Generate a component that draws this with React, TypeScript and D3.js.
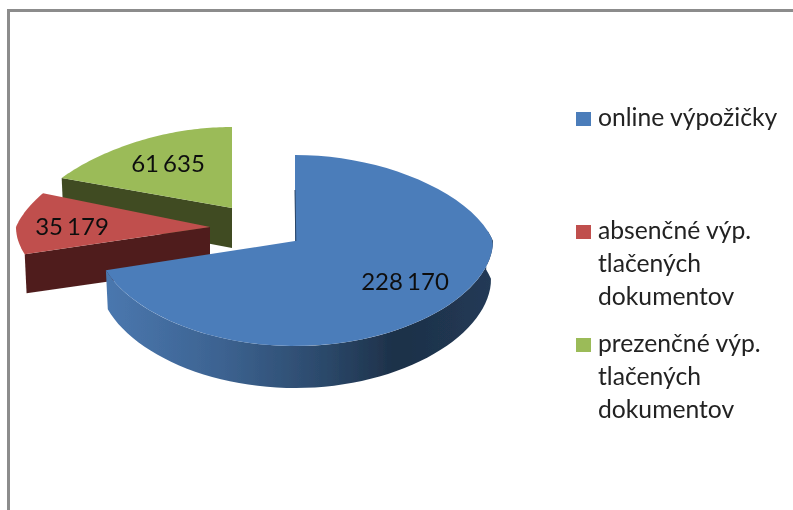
import React from "react";
import * as d3 from "d3";

const categories = ["online výpožičky", "absenčné výp. tlačených dokumentov", "prezenčné výp. tlačených dokumentov"];
const values = [228170, 35179, 61635];
const legendLines = [["online výpožičky"], ["absenčné výp.", "tlačených", "dokumentov"], ["prezenčné výp.", "tlačených", "dokumentov"]];

const topColors = ["#4c7dba", "#c0504d", "#9bbb59"];
const sideColors = ["url(#blueWall)", "#4f1f1d", "#404c24"];
const apexes: [number, number][] = [[295, 241], [210, 227], [232, 208]];
const radiusX = [198, 194, 198];
const radiusYBase = [95.5, 91.5, 81];
const radiusYSlope = [9.5, 0, 0];
const labelPos: [number, number][] = [[405, 290], [72, 235], [168, 172]];
const legendY = [126, 239, 352];
const legendBaselines = [[126], [239, 272, 305], [352, 385, 418]];

const arcs = d3.pie<number>().sort(null).startAngle(0).endAngle(2 * Math.PI)(values);
const fmt = d3.formatLocale({ decimal: ",", thousands: " ", grouping: [3], currency: ["", ""] }).format(",d");
const lineGen = d3.line();

function project(i: number, a: number, depth = false): [number, number] {
  const c = Math.cos(a), s = Math.sin(a);
  const rx = radiusX[i] * (1 - 0.2 * Math.max(0, c)) * (depth ? 0.99 : 1);
  const ry = radiusYBase[i] - radiusYSlope[i] * c;
  const d = depth ? 38 + 4 * Math.max(0, -c) : 0;
  return [apexes[i][0] + rx * s, apexes[i][1] - ry * c + d];
}
const arcPoints = (i: number, a0: number, a1: number, depth = false) =>
  d3.range(0, 61).map((k) => project(i, a0 + ((a1 - a0) * k) / 60, depth));

function topPath(i: number) {
  const { startAngle, endAngle } = arcs[i];
  return lineGen([apexes[i], ...arcPoints(i, startAngle, endAngle)]) + "Z";
}
function wallPath(i: number) {
  const { startAngle, endAngle } = arcs[i];
  if (i > 0) {
    const ap = apexes[i];
    return lineGen([ap, project(i, startAngle), project(i, startAngle, true), [ap[0], ap[1] + 40]]) + "Z";
  }
  const a0 = Math.PI / 2 - 0.1;
  return lineGen([...arcPoints(i, a0, endAngle), ...arcPoints(i, a0, endAngle, true).reverse()]) + "Z";
}

export default function App() {
  return (
    <svg width={793} height={510} style={{ position: "absolute", left: 0, top: 0, display: "block", background: "#fff" }} fontFamily="Lato, 'Open Sans', sans-serif">
      <defs>
        <linearGradient id="blueWall" gradientUnits="userSpaceOnUse" x1={108} x2={493} y1={0} y2={0}>
          <stop offset="0" stopColor="#4a77ae" />
          <stop offset="0.3" stopColor="#3c6290" />
          <stop offset="0.55" stopColor="#2c4a6c" />
          <stop offset="0.75" stopColor="#1d3048" />
          <stop offset="1" stopColor="#223a56" />
        </linearGradient>
        <filter id="soft" x="-5%" y="-5%" width="110%" height="110%">
          <feGaussianBlur stdDeviation="0.5" />
        </filter>
      </defs>
      <path d="M8.5 510V10.5H793" fill="none" stroke="#8c8c8c" strokeWidth={3} />
      <g filter="url(#soft)">
        {[2, 1, 0].map((i) => (
          <g key={categories[i]}>
            <path d={wallPath(i)} fill={sideColors[i]} />
            <path d={topPath(i)} fill={topColors[i]} />
          </g>
        ))}
        <line x1={295} y1={190} x2={295.8} y2={241} stroke="#2a4566" strokeWidth={1} />
        {values.map((v, i) => (
          <text key={i} x={labelPos[i][0]} y={labelPos[i][1]} textAnchor="middle" fontSize={24} fill="#111" wordSpacing={-2}>{fmt(v)}</text>
        ))}
        {categories.map((c, i) => (
          <g key={c}>
            <rect x={576} y={legendY[i] - 14} width={15} height={14} fill={topColors[i]} />
            {legendLines[i].map((l, k) => (
              <text key={k} x={598} y={legendBaselines[i][k]} fontSize={24.7} fill="#222">{l}</text>
            ))}
          </g>
        ))}
      </g>
    </svg>
  );
}
